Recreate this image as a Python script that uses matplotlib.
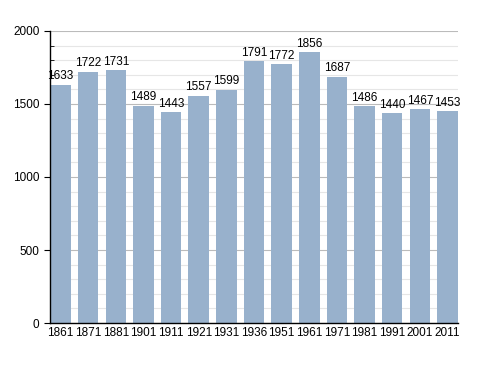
import numpy as np
import matplotlib.pyplot as plt
from matplotlib.ticker import MultipleLocator

plt.rcParams['font.family'] = ['Liberation Sans', 'DejaVu Sans']

years = ["1861", "1871", "1881", "1901", "1911", "1921", "1931", "1936",
         "1951", "1961", "1971", "1981", "1991", "2001", "2011"]
population = [1633, 1722, 1731, 1489, 1443, 1557, 1599, 1791,
              1772, 1856, 1687, 1486, 1440, 1467, 1453]

fig = plt.figure(figsize=(4.88, 3.73), dpi=100)
ax = fig.add_axes([0.1025, 0.134, 0.836, 0.783])

x = np.arange(len(years))
ax.bar(x, population, width=0.74, color="#98b1cc", zorder=2)
for xi, v in zip(x, population):
    ax.text(xi, v + 15, str(v), ha="center", va="bottom", fontsize=8.5, zorder=3)

ax.set_xlim(-0.38, len(years) - 0.62)
ax.set_ylim(0, 2000)
ax.set_xticks(x)
ax.set_xticklabels(years, fontsize=8.5)
ax.yaxis.set_major_locator(MultipleLocator(500))
ax.yaxis.set_minor_locator(MultipleLocator(100))
ax.tick_params(axis="y", which="major", labelsize=8.5, length=4, direction="out")
ax.tick_params(axis="y", which="minor", length=3, direction="in")
ax.tick_params(axis="x", length=0, pad=3)

ax.grid(True, axis="y", which="major", color="#bbbbbb", linewidth=0.8, zorder=0)
ax.grid(True, axis="y", which="minor", color="#e6e6e6", linewidth=0.8, zorder=0)
ax.set_axisbelow(True)

for side in ["top", "right"]:
    ax.spines[side].set_visible(False)
ax.spines["left"].set_linewidth(1)
ax.spines["bottom"].set_linewidth(1)

fig.savefig("out.png", dpi=100)
